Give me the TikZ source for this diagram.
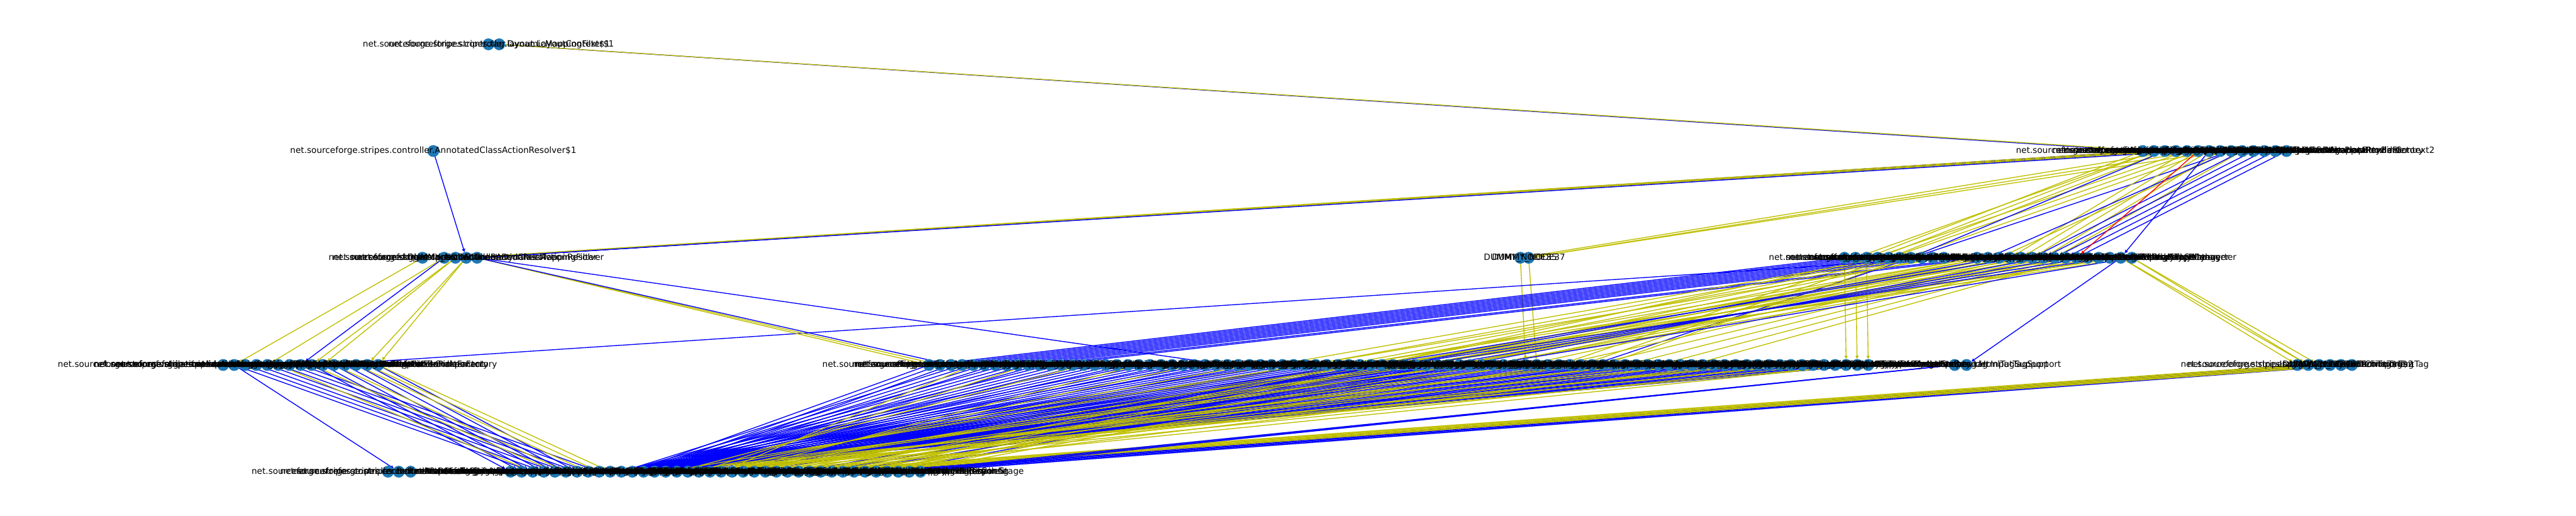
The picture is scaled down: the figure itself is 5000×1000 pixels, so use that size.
\documentclass[tikz,border=0pt]{standalone}
\usepackage{fontspec}
\setmainfont{DejaVu Sans}
\usetikzlibrary{arrows.meta}
\pgfdeclarelayer{edgelayer}
\pgfsetlayers{edgelayer,main}
\definecolor{nxnode}{HTML}{1F78B4}
\definecolor{nxb}{rgb}{0,0,1}
\definecolor{nxy}{rgb}{0.75,0.75,0}
\definecolor{nxr}{rgb}{1,0,0}
\newcommand\nsf{net.sourceforge.stripes.}
\tikzset{
  nd/.style={circle, fill=nxnode, draw=none, minimum size=0.23in, inner sep=0pt, outer sep=0pt},
  lbl/.style={inner sep=0pt, font=\fontsize{12}{14}\selectfont, text=black},
  ed/.style={line width=1.2pt, -{Triangle[length=4.5pt,width=4.5pt]}},
  eb/.style={ed, draw=nxb},
  ey/.style={ed, draw=nxy},
  er/.style={ed, draw=nxr},
}
\def\Blist{exception.DefaultExceptionHandler, controller.StripesFilter, config.RuntimeConfiguration, controller.DispatcherServlet, controller.DispatcherHelper, controller.ExecutionContext, controller.NameBasedActionResolver, config.DefaultConfiguration, controller.UrlBindingFactory, controller.StripesRequestWrapper, validation.DefaultValidationMetadataProvider, controller.DefaultActionBeanPropertyBinder, localization.DefaultLocalizationBundleFactory, tag.layout.LayoutComponentRenderContext2}
\def\CRlist{util.HttpUtil, util.Log, util.ReflectUtil, util.CryptoUtil, util.UrlBuilder, util.HtmlUtil, util.StringUtil, util.CollectionUtil, util.bean.PropertyExpression, util.bean.PropertyExpressionEvaluation, action.Resolution, action.ForwardResolution, action.RedirectResolution, action.OnwardResolution, action.StreamingResolution, validation.ValidationErrors, validation.ValidationMetadata, validation.TypeConverterFactory, format.FormatterFactory, controller.ActionBeanContextFactory, controller.ActionBeanPropertyBinder, controller.FlashScope, controller.BindingPolicyManager, tag.PopulationStrategy, validation.TypeConverter}
\def\DLlist{validation.expression.CommonsElExpressionExecutor, validation.expression.ExpressionValidator, validation.expression.Jsp20ExpressionExecutor, validation.expression.ExpressionExecutor, validation.expression.ExpressionExecutorSupport, format.Formatter, format.DateFormatter, format.NumberFormatter, format.EnumFormatter, format.ObjectFormatter, localization.LocalePicker, localization.DefaultLocalePicker, localization.LocalizationBundleFactory, config.ConfigurableComponent, format.DefaultFormatterFactory}
\def\DMlist{action.ActionBeanContext, action.Message, action.SimpleMessage, action.LocalizableMessage, action.FileBean, action.UrlBinding, action.HandlesEvent, action.DefaultHandler, action.DontValidate, action.Wizard, action.SessionScope, action.StrictBinding, action.Before, action.After, action.ErrorResolution, action.JavaScriptResolution, action.DontBind, action.HttpCache, tag.FormTag, tag.InputTextTag, tag.InputTextAreaTag, tag.InputPasswordTag, tag.InputHiddenTag, tag.InputSubmitTag, tag.InputResetTag, tag.InputButtonTag, tag.InputImageTag, tag.InputFileTag, tag.InputCheckBoxTag, tag.InputRadioButtonTag, tag.InputSelectTag, tag.InputOptionTag, tag.InputOptionsCollectionTag, tag.InputOptionsEnumerationTag, tag.InputOptionsMapTag, tag.InputLabelTag, tag.LinkTag, tag.LinkTagSupport, tag.UrlTag, tag.ParamTag, tag.ErrorsTag, tag.ErrorsHeaderTag, tag.ErrorsFooterTag, tag.IndividualErrorTag, tag.MessagesTag, tag.FieldMetadataTag, tag.WizardFieldsTag, tag.UseActionBeanTag, tag.FormatTag, tag.BeanFirstPopulationStrategy, tag.DefaultPopulationStrategy, tag.TagErrorRenderer, tag.DefaultTagErrorRenderer, tag.TagErrorRendererFactory, tag.DefaultTagErrorRendererFactory, tag.StripesTagSupport, tag.VarTagSupport, tag.ElFunctions, validation.Validate, validation.ValidateNestedProperties, validation.ValidationMethod, validation.ValidationState, validation.SimpleError, validation.LocalizableError, validation.ScopedLocalizableError, validation.ValidationError, validation.IntegerTypeConverter, validation.LongTypeConverter, validation.ShortTypeConverter, validation.ByteTypeConverter, validation.FloatTypeConverter, validation.DoubleTypeConverter, validation.BooleanTypeConverter, validation.DateTypeConverter, validation.EnumeratedTypeConverter, validation.EmailTypeConverter, validation.BigDecimalTypeConverter, validation.BigIntegerTypeConverter, validation.CharacterTypeConverter, validation.StringTypeConverter, validation.OneToManyTypeConverter, validation.PercentageTypeConverter, validation.DefaultTypeConverterFactory, validation.ValidationErrorHandler, validation.ValidationMetadataProvider, util.TypeHandlerCache}
\def\EMlist{controller.Interceptor, controller.Intercepts, exception.StripesServletException, exception.StripesRuntimeException, exception.ActionBeanNotFoundException, exception.StripesJspException, exception.SourcePageNotFoundException, exception.UrlBindingConflictException, exception.ExceptionHandler, controller.ObjectFactory, controller.UrlBindingParameter, controller.ParameterName, controller.StripesConstants, controller.DefaultActionBeanContextFactory, util.Base64, util.ResolverUtil, util.Literal, util.bean.NodeEvaluation, util.bean.ParseException, util.bean.EvaluationException, util.bean.NoSuchPropertyException, util.bean.PropertyExpressionEvaluation, config.Configuration, config.BootstrapPropertyResolver, config.TargetTypes, config.DontAutoLoad, localization.DefaultLocalizationBundleFactory, ajax.JavaScriptBuilder, mock.MockServletContext, mock.MockHttpServletRequest, mock.MockHttpSession, mock.MockRoundtrip, integration.spring.SpringHelper, integration.spring.SpringBean, mock.MockHttpServletResponse, mock.MockFilterChain, mock.MockFilterConfig, controller.LifecycleStage}
\begin{document}
\begin{tikzpicture}[x=0.01in, y=-0.01in]
\useasboundingbox (0,0) rectangle (5000,1000);
% ---------- node circles ----------
\node[nd] (a1) at (948,86) {};
\node[nd] (a2) at (969,86) {};
\node[nd] (b0) at (841,293) {};
\foreach \t [count=\i] in \Blist {\node[nd] (b\i) at ({4159+21.46*(\i-1)},293) {};}
\node[nd] (c1) at (820,500) {};
\node[nd] (c2) at (862,500) {};
\node[nd] (c3) at (884,500) {};
\node[nd] (c4) at (905,500) {};
\node[nd] (c5) at (926,500) {};
\node[nd] (cd1) at (2951,500) {};
\node[nd] (cd2) at (2967,500) {};
\foreach \t [count=\i] in \CRlist {\pgfmathsetmacro\xx{\i<11 ? 3580+21.45*(\i-1) : 3837+21.5*(\i-11)}\node[nd] (cr\i) at (\xx,500) {};}
\foreach \t [count=\i] in \DLlist {\node[nd] (dl\i) at ({433+21.5*(\i-1)},708) {};}
\foreach \t [count=\i] in \DMlist {\node[nd] (dm\i) at ({1803+21.45*(\i-1)},708) {};}
\node[nd] (r1) at (3794,708) {};
\node[nd] (r2) at (3817,708) {};
\foreach \i in {1,...,6} {\node[nd] (s\i) at ({4459+21.2*(\i-1)},708) {};}
\node[nd] (el1) at (753,915) {};
\node[nd] (el2) at (774,915) {};
\node[nd] (el3) at (797,915) {};
\foreach \t [count=\i] in \EMlist {\node[nd] (em\i) at ({991+21.5*(\i-1)},915) {};}
% ---------- edges ----------
\begin{pgfonlayer}{edgelayer}
\draw[eb] (a2) -- (b1);
\draw[ey] (a2) -- (b2);
\draw[eb] (b0) -- (c4);
\foreach \k in {1,2,3,4} {\draw[eb] (b\k) -- (c5); \draw[ey] (b\k) -- (c4);}
\draw[eb] (b5) -- (c5);
\draw[ey] (b4) -- (cd1);
\draw[ey] (b6) -- (cd2);
\draw[ey] (b8) -- (cd2);
\draw[ey] (cd1) -- (dm55);
\draw[ey] (cd2) -- (dm56);
\draw[ey] (cr1) -- (dm84);
\draw[ey] (cr2) -- (dm85);
\draw[ey] (cr3) -- (dm86);
\draw[ey] (b5) -- (dm58);
\draw[ey] (b6) -- (dm60);
\draw[ey] (b7) -- (dm62);
\draw[eb] (b9) -- (dm61);
\draw[ey] (b1) -- (cr3);
\draw[ey] (b2) -- (cr4);
\draw[ey] (b3) -- (cr5);
\draw[ey] (b2) -- (cr2);
\draw[eb] (b3) -- (cr7);
\foreach \k/\m in {5/14,6/15,7/16,8/17,9/13,10/18} {\draw[ey] (b\k) -- (cr\m);}
\foreach \k/\m in {9/12,11/17,12/18,13/19,14/20,10/16} {\draw[eb] (b\k) -- (cr\m);}
\draw[er] (b6) -- (cr20);
\draw[eb] (b7) -- (cr24);
\foreach \k in {1,...,12} {\draw[eb] (cr\k) -- (dm\k);}
\foreach \k in {11,...,20} {\pgfmathtruncatemacro\m{40+3*(\k-10)}\draw[ey] (cr\k) -- (dm\m);}
\foreach \k in {4,...,25} {\pgfmathtruncatemacro\m{14+mod(\k*5,24)}\draw[ey] (cr\k) -- (em\m);}
\foreach \k in {13,15,...,25} {\pgfmathtruncatemacro\m{16+mod(\k*7,20)}\draw[eb] (cr\k) -- (em\m);}
\draw[ey] (cr24) -- (s1);
\draw[ey] (cr24) -- (s2);
\draw[ey] (cr25) -- (s2);
\draw[ey] (cr25) -- (s3);
\draw[eb] (cr24) -- (r2);
\foreach \i in {1,...,86} {\pgfmathtruncatemacro\k{11+mod(\i,4)}\draw[eb] (dm\i) -- (em\k);}
\foreach \i in {5,10,...,85} {\pgfmathtruncatemacro\k{15+mod(\i,7)}\draw[ey] (dm\i) -- (em\k);}
\foreach \i in {40,43,...,85} {\pgfmathtruncatemacro\k{18+mod(\i,15)}\draw[ey] (dm\i) -- (em\k);}
\foreach \j in {1,...,6} {\pgfmathtruncatemacro\m{32+\j}\pgfmathtruncatemacro\n{26+\j}\draw[eb] (s\j) -- (em\m); \draw[ey] (s\j) -- (em\n);}
\draw[eb] (em36) -- (r1);
\draw[eb] (em37) -- (r1);
\draw[eb] (em38) -- (r1);
\foreach \k in {2,...,15} {\pgfmathtruncatemacro\m{1+mod(\k,9)}\draw[eb] (dl\k) -- (em\m);}
\foreach \k/\m in {6/3,9/5,11/6,13/8,14/9,15/10} {\draw[ey] (dl\k) -- (em\m);}
\draw[eb] (dl2) -- (el2);
\draw[eb] (dl10) -- (cr10);
\draw[ey] (c1) -- (dl2);
\draw[ey] (c2) -- (dl5);
\draw[eb] (c2) -- (dl8);
\draw[ey] (c3) -- (dl9);
\draw[ey] (c3) -- (dl10);
\draw[ey] (c4) -- (dl14);
\draw[ey] (c4) -- (dl15);
\draw[ey] (c5) -- (dm1);
\draw[ey] (c5) -- (dm2);
\draw[eb] (c5) -- (dm3);
\draw[eb] (c5) -- (dm28);
\end{pgfonlayer}
% ---------- labels ----------
\node[lbl] (a1-l) at (a1) {\nsf controller.DynamicMappingFilter\$1};
\node[lbl] (a2-l) at (a2) {\nsf tag.layout.LayoutContext\$1};
\node[lbl] (b0-l) at (b0) {\nsf controller.AnnotatedClassActionResolver\$1};
\foreach \t [count=\i] in \Blist {\node[lbl] (b\i-l) at (b\i) {\nsf\t};}
\node[lbl] (c1-l) at (c1) {\nsf action.ActionBean};
\node[lbl] (c2-l) at (c2) {DUMMY\_NODE12};
\node[lbl] (c3-l) at (c3) {\nsf controller.ActionResolver};
\node[lbl] (c4-l) at (c4) {\nsf controller.AnnotatedClassActionResolver};
\node[lbl] (c5-l) at (c5) {\nsf controller.DynamicMappingFilter};
\node[lbl] (cd1-l) at (cd1) {DUMMY\_NODE35};
\node[lbl] (cd2-l) at (cd2) {DUMMY\_NODE37};
\foreach \t [count=\i] in \CRlist {\node[lbl] (cr\i-l) at (cr\i) {\nsf\t};}
\foreach \t [count=\i] in \DLlist {\node[lbl] (dl\i-l) at (dl\i) {\nsf\t};}
\foreach \t [count=\i] in \DMlist {\node[lbl] (dm\i-l) at (dm\i) {\nsf\t};}
\node[lbl] (r1-l) at (r1) {\nsf tag.HtmlTagSupport};
\node[lbl] (r2-l) at (r2) {\nsf tag.InputTagSupport};
\node[lbl] (s1-l) at (s1) {\nsf tag.layout.LayoutDefinitionTag};
\node[lbl] (s2-l) at (s2) {\nsf tag.layout.LayoutComponentTag};
\node[lbl] (s3-l) at (s3) {DUMMY\_NODE40};
\node[lbl] (s4-l) at (s4) {DUMMY\_NODE52};
\node[lbl] (s5-l) at (s5) {InputOptionsCollectionTag\$1};
\node[lbl] (s6-l) at (s6) {InputOptionsCollectionTag\$2};
\node[lbl] (el1-l) at (el1) {\nsf controller.BeforeAfterMethodInterceptor};
\node[lbl] (el2-l) at (el2) {\nsf controller.HttpCacheInterceptor};
\node[lbl] (el3-l) at (el3) {\nsf controller.DefaultObjectFactory};
\foreach \t [count=\i] in \EMlist {\node[lbl] (em\i-l) at (em\i) {\nsf\t};}
\end{tikzpicture}
\end{document}
